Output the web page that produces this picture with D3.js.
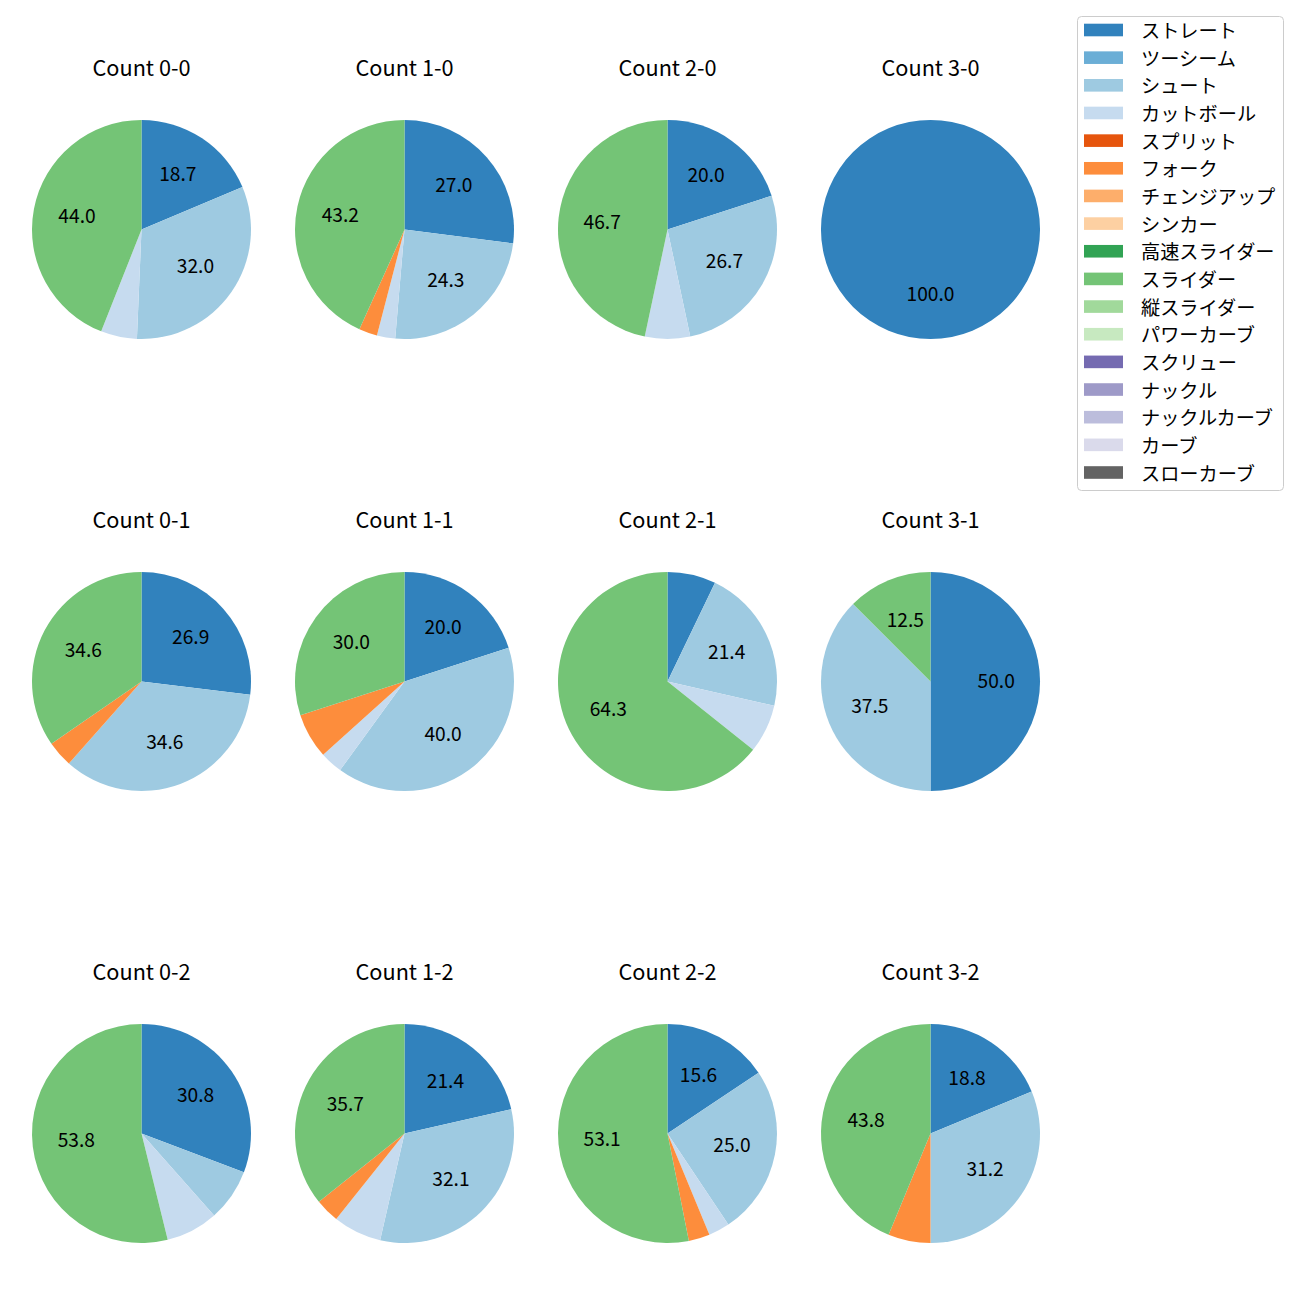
<!DOCTYPE html>
<html>
<head>
<meta charset="utf-8">
<script src="https://cdn.jsdelivr.net/npm/d3@7"></script>
<style>
  html, body { margin: 0; padding: 0; background: #fff; }
  svg { display: block; }
  text { font-family: "Noto Sans CJK JP", "Noto Sans", sans-serif; }
</style>
</head>
<body>
<svg id="chart" width="1300" height="1300"></svg>
<script>
// Pitch types (legend order) and their colours
const pitchTypes = ["ストレート","ツーシーム","シュート","カットボール","スプリット","フォーク","チェンジアップ","シンカー","高速スライダー","スライダー","縦スライダー","パワーカーブ","スクリュー","ナックル","ナックルカーブ","カーブ","スローカーブ"];
const pitchColors = ["#3182bd","#6baed6","#9ecae1","#c6dbef","#e6550d","#fd8d3c","#fdae6b","#fdd0a2","#31a354","#74c476","#a1d99b","#c7e9c0","#756bb1","#9e9ac8","#bcbddc","#dadaeb","#636363"];

// Panel titles (row-major: 0 strikes, 1 strike, 2 strikes)
const panelTitles = ["Count 0-0","Count 1-0","Count 2-0","Count 3-0",
                     "Count 0-1","Count 1-1","Count 2-1","Count 3-1",
                     "Count 0-2","Count 1-2","Count 2-2","Count 3-2"];

// Pitch counts per panel, in pitchTypes order
//                 St Tw Sh Cu Sp Fo Ch Si HS Sl VS PC Sc Kn KC Cv SC
const count00 = [14, 0,24, 4, 0, 0, 0, 0, 0,33, 0, 0, 0, 0, 0, 0, 0];
const count10 = [10, 0, 9, 1, 0, 1, 0, 0, 0,16, 0, 0, 0, 0, 0, 0, 0];
const count20 = [ 3, 0, 4, 1, 0, 0, 0, 0, 0, 7, 0, 0, 0, 0, 0, 0, 0];
const count30 = [ 1, 0, 0, 0, 0, 0, 0, 0, 0, 0, 0, 0, 0, 0, 0, 0, 0];
const count01 = [ 7, 0, 9, 0, 0, 1, 0, 0, 0, 9, 0, 0, 0, 0, 0, 0, 0];
const count11 = [ 6, 0,12, 1, 0, 2, 0, 0, 0, 9, 0, 0, 0, 0, 0, 0, 0];
const count21 = [ 1, 0, 3, 1, 0, 0, 0, 0, 0, 9, 0, 0, 0, 0, 0, 0, 0];
const count31 = [ 4, 0, 3, 0, 0, 0, 0, 0, 0, 1, 0, 0, 0, 0, 0, 0, 0];
const count02 = [ 4, 0, 1, 1, 0, 0, 0, 0, 0, 7, 0, 0, 0, 0, 0, 0, 0];
const count12 = [ 6, 0, 9, 2, 0, 1, 0, 0, 0,10, 0, 0, 0, 0, 0, 0, 0];
const count22 = [ 5, 0, 8, 1, 0, 1, 0, 0, 0,17, 0, 0, 0, 0, 0, 0, 0];
const count32 = [ 3, 0, 5, 0, 0, 1, 0, 0, 0, 7, 0, 0, 0, 0, 0, 0, 0];
const panelValues = [count00,count10,count20,count30,
                     count01,count11,count21,count31,
                     count02,count12,count22,count32];

const labelThreshold = 10; // percent

// Python-style "%1.1f" (round half to even on exact binary halves)
function fmtPct(p) {
  const s = p * 10;
  const fl = Math.floor(s);
  const diff = s - fl;
  let r;
  if (Math.abs(diff - 0.5) < 1e-9) r = (fl % 2 === 0) ? fl : fl + 1;
  else r = Math.round(s);
  return (r / 10).toFixed(1);
}

const svg = d3.select("#chart");

// Layout
const colX = d3.scaleLinear().domain([0, 3]).range([141.5, 930.5]);
const rowY = d3.scaleLinear().domain([0, 2]).range([229.5, 1133.5]);
const R = 109.5;

const color = d3.scaleOrdinal().domain(pitchTypes).range(pitchColors);
const pie = d3.pie().sort(null).value(d => d.v).startAngle(0).endAngle(2 * Math.PI);
const arc = d3.arc().innerRadius(0).outerRadius(R);
const labelArc = d3.arc().innerRadius(R * 0.6).outerRadius(R * 0.6);

panelTitles.forEach((title, i) => {
  const col = i % 4, row = Math.floor(i / 4);
  const cx = colX(col), cy = rowY(row);
  const g = svg.append("g").attr("transform", `translate(${cx},${cy})`);
  const vals = panelValues[i];
  const total = d3.sum(vals);
  const data = pitchTypes.map((p, k) => ({ p, v: vals[k] }));
  const arcs = pie(data).filter(a => a.data.v > 0);

  g.selectAll("path.w").data(arcs).join("path")
    .attr("class", "w")
    .attr("d", arc)
    .attr("fill", d => color(d.data.p));

  g.selectAll("text.lbl").data(arcs.filter(a => a.data.v / total * 100 >= labelThreshold)).join("text")
    .attr("class", "lbl")
    .attr("x", d => labelArc.centroid(d)[0])
    .attr("y", d => labelArc.centroid(d)[1] + 6)
    .attr("text-anchor", "middle")
    .attr("font-size", "19.2px")
    .attr("fill", "#000")
    .text(d => fmtPct(d.data.v / total * 100));

  svg.append("text")
    .attr("x", cx)
    .attr("y", cy - 153.5)
    .attr("text-anchor", "middle")
    .attr("font-size", "21.7px")
    .attr("fill", "#000")
    .text(title);
});

// Legend
const legend = svg.append("g").attr("transform", "translate(1077,16)");
legend.append("rect")
  .attr("x", 0.5).attr("y", 0.5)
  .attr("width", 206).attr("height", 474)
  .attr("rx", 4).attr("ry", 4)
  .attr("fill", "#fff").attr("fill-opacity", 0.8)
  .attr("stroke", "#cccccc").attr("stroke-width", 1);

const ly = d3.scaleLinear().domain([0, pitchTypes.length - 1]).range([14, 456.5]);
const items = legend.selectAll("g.item").data(pitchTypes).join("g")
  .attr("class", "item")
  .attr("transform", (d, k) => `translate(0,${ly(k)})`);
items.append("rect")
  .attr("x", 7).attr("y", -6.3)
  .attr("width", 39).attr("height", 12.6)
  .attr("fill", d => color(d));
items.append("text")
  .attr("x", 64).attr("y", 0)
  .attr("dominant-baseline", "central")
  .attr("font-size", "19.2px")
  .attr("fill", "#000")
  .text(d => d);
</script>
</body>
</html>
